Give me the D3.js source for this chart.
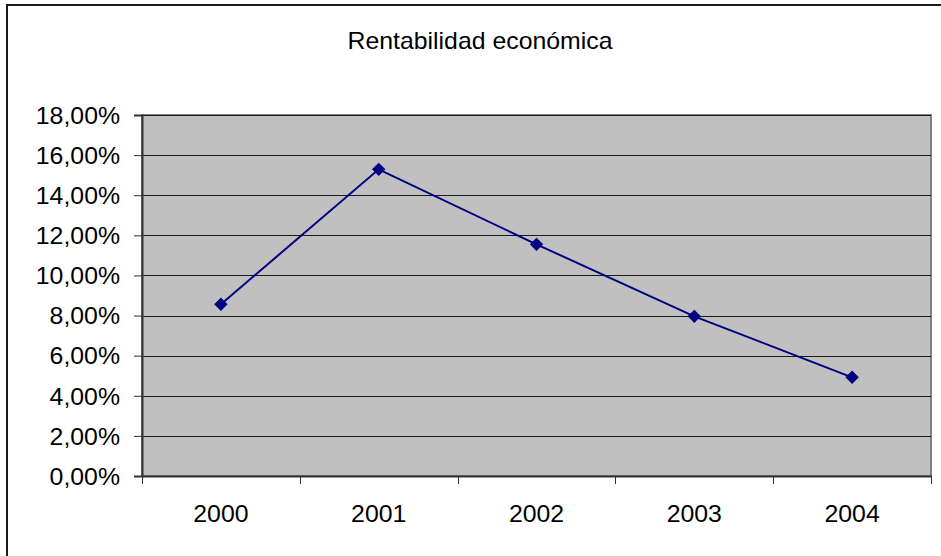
<!DOCTYPE html>
<html>
<head>
<meta charset="utf-8">
<script src="https://cdn.jsdelivr.net/npm/d3@7"></script>
<style>
  html, body { margin: 0; padding: 0; background: #fff; }
  svg { display: block; }
  text { font-family: "Liberation Sans", Arial, sans-serif; fill: #000; }
</style>
</head>
<body>
<svg id="chart" width="941" height="556"></svg>
<script>
const title = "Rentabilidad económica";
const years = ["2000", "2001", "2002", "2003", "2004"];
const values = [0.0856, 0.1529, 0.1155, 0.0796, 0.0492];
const yTicks = [0, 0.02, 0.04, 0.06, 0.08, 0.10, 0.12, 0.14, 0.16, 0.18];

const svg = d3.select("#chart");
const W = 941, H = 556;
const plot = { left: 142, top: 115, right: 931, bottom: 476 };
const SX = 1.08, FS = "23px";

// outer frame (top and left edges visible)
svg.append("path")
  .attr("d", `M7,${H} L7,5 L${W},5`)
  .attr("fill", "none").attr("stroke", "#1a1a1a").attr("stroke-width", 2);

const x = d3.scaleBand().domain(years).range([plot.left, plot.right]).padding(0);
const y = d3.scaleLinear().domain([0, 0.18]).range([plot.bottom, plot.top]);

// plot background
svg.append("rect")
  .attr("x", plot.left).attr("y", plot.top)
  .attr("width", plot.right - plot.left).attr("height", plot.bottom - plot.top)
  .attr("fill", "#c0c0c0").attr("stroke", "#808080").attr("stroke-width", 2);

// gridlines
svg.append("g").selectAll("line").data(yTicks.slice(1)).join("line")
  .attr("x1", plot.left).attr("x2", plot.right)
  .attr("y1", d => Math.round(y(d)) + 0.5).attr("y2", d => Math.round(y(d)) + 0.5)
  .attr("stroke", "#1a1a1a").attr("stroke-width", 1);

// y axis
const fmt = d => (d * 100).toFixed(2).replace(".", ",") + "%";
const yAxis = d3.axisLeft(y).tickValues(yTicks).tickFormat(fmt).tickSize(8).tickPadding(14);
const gy = svg.append("g").attr("transform", `translate(${plot.left},0)`).call(yAxis);
gy.select(".domain").attr("stroke", "#333").attr("stroke-width", 2);
gy.selectAll(".tick line").attr("stroke", "#333");
gy.selectAll(".tick text")
  .style("font-family", '"Liberation Sans", Arial, sans-serif')
  .style("font-size", FS).attr("fill", "#000")
  .attr("transform", `scale(${SX},1)`)
  .attr("x", -22 / SX).attr("dy", "0.36em");

// x axis
const xAxis = d3.axisBottom(x).tickSize(0).tickFormat(d => d);
const gx = svg.append("g").attr("transform", `translate(0,${plot.bottom})`).call(xAxis);
gx.select(".domain").attr("stroke", "#333").attr("stroke-width", 2);
gx.selectAll(".tick text")
  .style("font-family", '"Liberation Sans", Arial, sans-serif')
  .style("font-size", FS).attr("fill", "#000")
  .attr("y", 46).attr("dy", 0)
  .attr("x", 0)
  .attr("transform", `scale(${SX},1)`);
// boundary tick marks between categories
const bounds = years.map(d => x(d)).concat([plot.right]);
svg.append("g").selectAll("line").data(bounds).join("line")
  .attr("x1", d => Math.round(d) + 0.5).attr("x2", d => Math.round(d) + 0.5)
  .attr("y1", plot.bottom).attr("y2", plot.bottom + 8)
  .attr("stroke", "#333").attr("stroke-width", 1);

// line
const cx = d => x(d) + x.bandwidth() / 2;
const line = d3.line().x((d, i) => cx(years[i])).y(d => y(d));
svg.append("path").datum(values)
  .attr("d", line).attr("fill", "none")
  .attr("stroke", "#000080").attr("stroke-width", 2);

// markers
svg.append("g").selectAll("path").data(values).join("path")
  .attr("d", d3.symbol().type(d3.symbolSquare).size(90))
  .attr("transform", (d, i) => `translate(${cx(years[i])},${y(d)}) rotate(45)`)
  .attr("fill", "#000080");

// title
svg.append("text")
  .attr("x", 480 / SX).attr("y", 49)
  .attr("transform", `scale(${SX},1)`)
  .attr("text-anchor", "middle")
  .style("font-size", FS)
  .text(title);
</script>
</body>
</html>
